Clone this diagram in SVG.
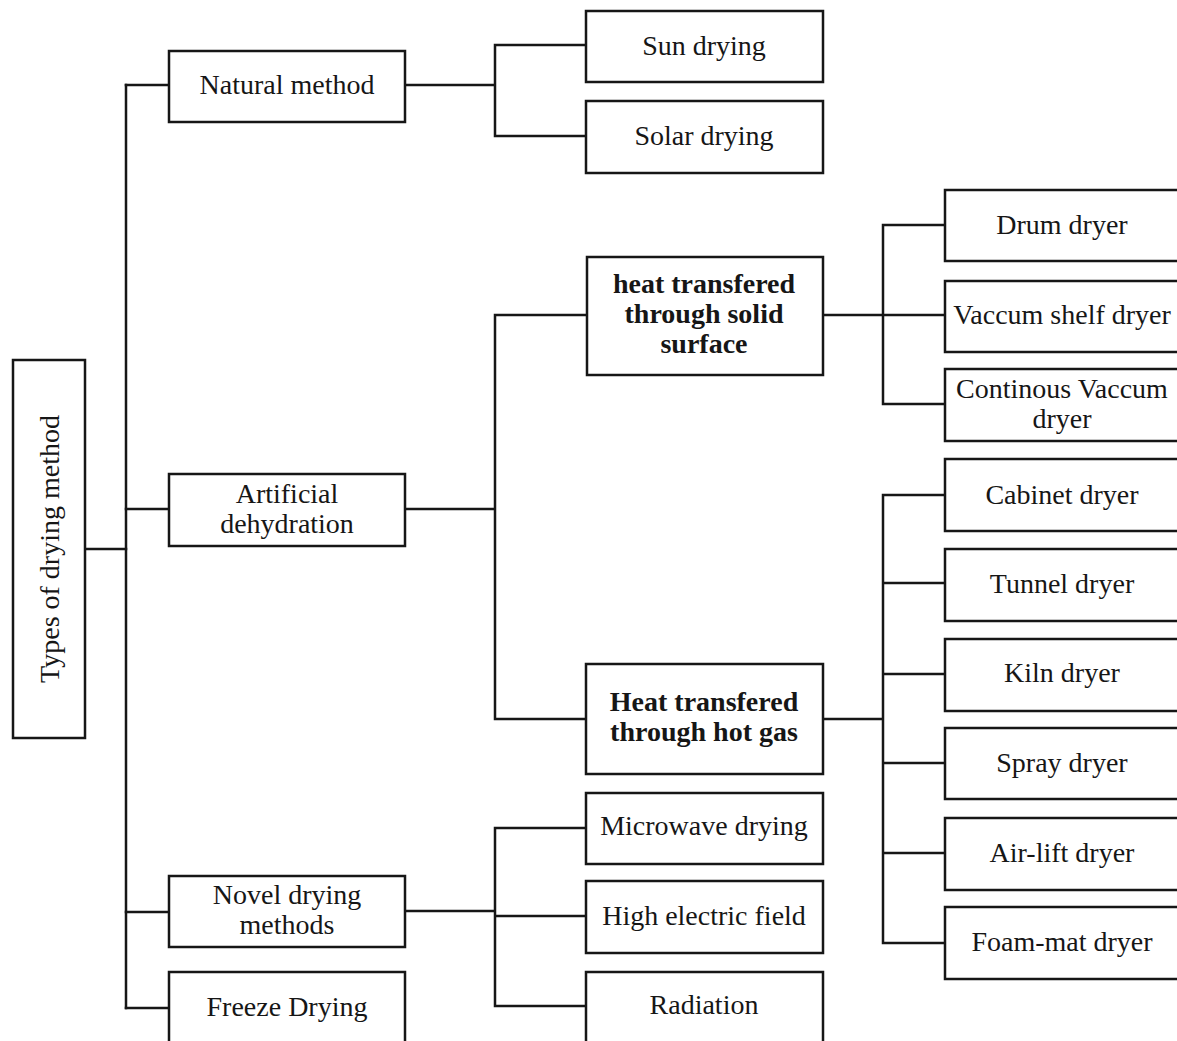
<svg xmlns="http://www.w3.org/2000/svg" width="1177" height="1041" viewBox="0 0 1177 1041">
<style>
  .box { fill: #fff; stroke: #161616; stroke-width: 2.5; }
  .t { font-family: "Liberation Serif", "Times New Roman", serif; font-size: 28px; fill: #161616; text-anchor: middle; }
  .b { font-weight: bold; }
  .conn { fill: none; stroke: #161616; stroke-width: 2.5; stroke-linecap: square; }
</style>
<rect width="1177" height="1041" fill="#fff"/>
<g id="connectors" class="conn">
  <path d="M85 549 H126"/>
  <path d="M126 85 V1008"/>
  <path d="M126 85 H169 M126 509 H169 M126 912 H169 M126 1008 H169"/>
  <path d="M405 85 H495 M495 45 V136 M495 45 H586 M495 136 H586"/>
  <path d="M405 509 H495 M495 315 V719 M495 315 H587 M495 719 H586"/>
  <path d="M823 315 H883 M883 225 V404 M883 225 H945 M883 315 H945 M883 404 H945"/>
  <path d="M823 719 H883 M883 495 V943 M883 495 H945 M883 583 H945 M883 674 H945 M883 763 H945 M883 853 H945 M883 943 H945"/>
  <path d="M405 911 H495 M495 828 V1006 M495 828 H586 M495 916 H586 M495 1006 H586"/>
</g>
<g id="root">
  <rect class="box" x="13" y="360" width="72" height="378"/>
  <text class="t" transform="translate(59,549) rotate(-90)">Types of drying method</text>
</g>
<g id="natural">
  <rect class="box" x="169" y="51" width="236" height="71"/>
  <text class="t" x="287" y="94">Natural method</text>
</g>
<g id="artificial">
  <rect class="box" x="169" y="474" width="236" height="72"/>
  <text class="t" x="287" y="503">Artificial</text>
  <text class="t" x="287" y="533">dehydration</text>
</g>
<g id="novel">
  <rect class="box" x="169" y="876" width="236" height="71"/>
  <text class="t" x="287" y="904">Novel drying</text>
  <text class="t" x="287" y="934">methods</text>
</g>
<g id="freeze">
  <rect class="box" x="169" y="972" width="236" height="90"/>
  <text class="t" x="287" y="1016">Freeze Drying</text>
</g>
<g id="sun">
  <rect class="box" x="586" y="11" width="237" height="71"/>
  <text class="t" x="704" y="55">Sun drying</text>
</g>
<g id="solar">
  <rect class="box" x="586" y="101" width="237" height="72"/>
  <text class="t" x="704" y="145">Solar drying</text>
</g>
<g id="solid">
  <rect class="box" x="587" y="257" width="236" height="118"/>
  <text class="t b" x="704" y="293">heat transfered</text>
  <text class="t b" x="704" y="323">through solid</text>
  <text class="t b" x="704" y="353">surface</text>
</g>
<g id="hotgas">
  <rect class="box" x="586" y="664" width="237" height="110"/>
  <text class="t b" x="704" y="711">Heat transfered</text>
  <text class="t b" x="704" y="741">through hot gas</text>
</g>
<g id="microwave">
  <rect class="box" x="586" y="793" width="237" height="71"/>
  <text class="t" x="704" y="835">Microwave drying</text>
</g>
<g id="electric">
  <rect class="box" x="586" y="881" width="237" height="72"/>
  <text class="t" x="704" y="925">High electric field</text>
</g>
<g id="radiation">
  <rect class="box" x="586" y="972" width="237" height="90"/>
  <text class="t" x="704" y="1014">Radiation</text>
</g>
<g id="drum">
  <rect class="box" x="945" y="190" width="250" height="71"/>
  <text class="t" x="1062" y="234">Drum dryer</text>
</g>
<g id="vacshelf">
  <rect class="box" x="945" y="281" width="250" height="71"/>
  <text class="t" x="1062" y="324">Vaccum shelf dryer</text>
</g>
<g id="contvac">
  <rect class="box" x="945" y="369" width="250" height="72"/>
  <text class="t" x="1062" y="398">Continous Vaccum</text>
  <text class="t" x="1062" y="428">dryer</text>
</g>
<g id="cabinet">
  <rect class="box" x="945" y="459" width="250" height="72"/>
  <text class="t" x="1062" y="504">Cabinet dryer</text>
</g>
<g id="tunnel">
  <rect class="box" x="945" y="549" width="250" height="72"/>
  <text class="t" x="1062" y="593">Tunnel dryer</text>
</g>
<g id="kiln">
  <rect class="box" x="945" y="639" width="250" height="72"/>
  <text class="t" x="1062" y="682">Kiln dryer</text>
</g>
<g id="spray">
  <rect class="box" x="945" y="728" width="250" height="71"/>
  <text class="t" x="1062" y="772">Spray dryer</text>
</g>
<g id="airlift">
  <rect class="box" x="945" y="818" width="250" height="72"/>
  <text class="t" x="1062" y="862">Air-lift dryer</text>
</g>
<g id="foam">
  <rect class="box" x="945" y="907" width="250" height="72"/>
  <text class="t" x="1062" y="951">Foam-mat dryer</text>
</g>
</svg>
